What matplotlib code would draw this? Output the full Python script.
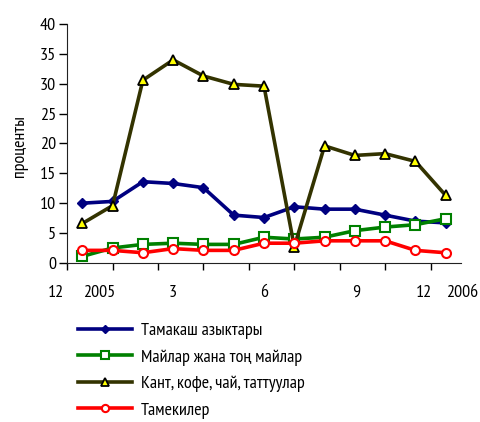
import matplotlib
matplotlib.use("Agg")
import matplotlib.pyplot as plt
import matplotlib.transforms as mtransforms
import numpy as np

plt.rcParams['font.family'] = ['PT Sans Narrow', 'Roboto Condensed', 'Liberation Sans', 'DejaVu Sans']

# monthly points, Dec 2004 .. Dec 2005
tamakash = [10.0, 10.3, 13.6, 13.3, 12.6, 8.0, 7.6, 9.4, 9.0, 9.0, 8.0, 7.0, 6.7]
mailar = [1.1, 2.5, 3.1, 3.3, 3.1, 3.1, 4.3, 4.0, 4.3, 5.4, 6.0, 6.4, 7.4]
kant = [6.6, 9.6, 30.6, 34.0, 31.3, 29.9, 29.6, 2.7, 19.6, 18.0, 18.3, 17.0, 11.3]
tamekiler = [2.1, 2.1, 1.7, 2.4, 2.1, 2.1, 3.3, 3.3, 3.7, 3.7, 3.7, 2.1, 1.7]

labels = ['Тамакаш азыктары', 'Майлар жана тоң майлар',
          'Кант, кофе, чай, таттуулар', 'Тамекилер']
x_labels = ['12', '2005', '3', '6', '9', '12', '2006']
x_label_pos = [-0.86, 0.56, 2.98, 6.0, 9.05, 11.27, 12.56]

x = np.arange(len(tamakash))

fig = plt.figure(figsize=(4.8, 4.22), dpi=100)
ax = fig.add_axes([0.14, 0.377, 0.82, 0.566])

lw = 2.6
ax.plot(x, tamakash, color='#000080', lw=lw, marker='D', ms=5,
        mfc='#000080', mec='#000080', label=labels[0])
ax.plot(x, mailar, color='#008000', lw=lw, marker='s', ms=6.5,
        mfc='white', mec='#008000', mew=1.5, label=labels[1])
ax.plot(x, kant, color='#333300', lw=lw, marker='^', ms=7,
        mfc='#FFFF00', mec='black', mew=1.3, label=labels[2])
ax.plot(x, tamekiler, color='#FF0000', lw=lw, marker='o', ms=6.5,
        mfc='white', mec='#FF0000', mew=1.5, label=labels[3])

ax.set_xlim(-0.5, 12.5)
ax.set_ylim(0, 40)
ax.set_yticks(range(0, 41, 5))
ax.set_xticks(np.arange(-0.5, 12.0, 1.5))
ax.set_xticklabels([])
ax.tick_params(axis='y', labelsize=13, length=6, width=1, direction='out', pad=2)
ax.tick_params(axis='x', length=5, width=1, direction='out')
for s in ['top', 'right']:
    ax.spines[s].set_visible(False)
for s in ['left', 'bottom']:
    ax.spines[s].set_color('#222222')

trans = mtransforms.blended_transform_factory(ax.transData, ax.transAxes)
for pos, lab in zip(x_label_pos, x_labels):
    ax.text(pos, -0.1255, lab, transform=trans, ha='center', va='center',
            fontsize=13, clip_on=False)

fig.text(0.042, 0.655, 'проценты', rotation=90, ha='center', va='center', fontsize=13)

fig.legend(loc='upper left', bbox_to_anchor=(0.1625, 0.236), frameon=False,
           fontsize=13, handlelength=3.0, handletextpad=0.5, labelspacing=0.55,
           borderpad=0, borderaxespad=0, markerscale=0.8)

fig.savefig('out.png', dpi=100)
